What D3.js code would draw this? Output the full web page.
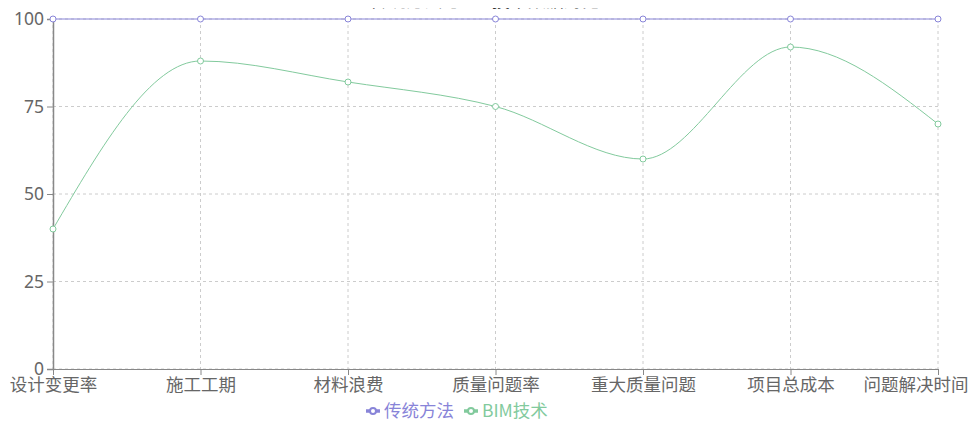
<!DOCTYPE html>
<html><head><meta charset="utf-8">
<script src="https://cdn.jsdelivr.net/npm/d3@7/dist/d3.min.js"></script>
<style>
html,body{margin:0;padding:0;background:#fff;}
svg{display:block;font-family:"Noto Sans CJK SC","Noto Sans",sans-serif;}
</style></head>
<body><svg id="c" width="968" height="421"></svg>
<script>
const categories = ["设计变更率","施工工期","材料浪费","质量问题率","重大质量问题","项目总成本","问题解决时间"];
const traditional = [100,100,100,100,100,100,100];
const bim = [40,88,82,75,60,92,70];
const yTicks = [0,25,50,75,100];
const seriesNames = ["传统方法","BIM技术"];
const seriesColors = ["#8884d8","#82ca9d"];
const titleText = "传统方法与BIM技术数据对比";

const W = 968, H = 421;
const m = {l:53, r:30, t:19, b:52};
const svg = d3.select("#c");
const fs = 17.5;

const x = d3.scalePoint().domain(categories).range([m.l, W - m.r]);
const y = d3.scaleLinear().domain([0,100]).range([H - m.b, m.t]);

// title, mostly hidden behind the top edge in the reference
svg.append("clipPath").attr("id","tclip").append("rect").attr("x",0).attr("y",8).attr("width",W).attr("height",2);
svg.append("text").attr("clip-path","url(#tclip)").attr("x",485).attr("y",7)
  .attr("text-anchor","middle").attr("font-size",18).attr("fill","#333").text(titleText);

// grid
const grid = svg.append("g").attr("stroke","#ccc").attr("stroke-dasharray","3 3").attr("fill","none");
yTicks.forEach(t => grid.append("line").attr("x1",m.l).attr("x2",W-m.r).attr("y1",y(t)).attr("y2",y(t)));
categories.forEach(c => grid.append("line").attr("x1",x(c)).attr("x2",x(c)).attr("y1",m.t).attr("y2",H-m.b));

// x axis
const xa = svg.append("g").attr("transform",`translate(0,${H-m.b})`)
  .call(d3.axisBottom(x).tickSize(6).tickPadding(4));
xa.select(".domain").attr("stroke","#888");
xa.selectAll(".tick line").attr("stroke","#888");
xa.selectAll(".tick text").attr("fill","#666").attr("font-size",fs).attr("font-family","Noto Sans CJK SC");
xa.selectAll(".tick text").each(function(d){
  const el = d3.select(this);
  const w = this.getComputedTextLength();
  const cx = x(d);
  if (cx + w/2 > W) { el.attr("text-anchor","end").attr("x", W - cx); }
});

// y axis
const ya = svg.append("g").attr("transform",`translate(${m.l},0)`)
  .call(d3.axisLeft(y).tickValues(yTicks).tickSize(6).tickPadding(3));
ya.select(".domain").attr("stroke","#888").attr("stroke-width",1.5);
ya.selectAll(".tick line").attr("stroke","#888");
ya.selectAll(".tick text").attr("fill","#666").attr("font-size",fs).attr("font-family","Noto Sans, sans-serif");

// lines
const series = [traditional, bim];
const line = d3.line().x((d,i)=>x(categories[i])).y(d=>y(d)).curve(d3.curveMonotoneX);
series.forEach((s,k)=>{
  svg.append("path").datum(s).attr("d",line).attr("fill","none").attr("stroke",seriesColors[k]).attr("stroke-width",1);
});
series.forEach((s,k)=>{
  svg.append("g").selectAll("circle").data(s).join("circle")
    .attr("cx",(d,i)=>x(categories[i])).attr("cy",d=>y(d)).attr("r",3)
    .attr("fill","#fff").attr("stroke",seriesColors[k]).attr("stroke-width",1);
});

// legend
const lg = svg.append("g").attr("transform","translate(366,411)");
let lx = 0;
seriesNames.forEach((n,k)=>{
  const g = lg.append("g").attr("transform",`translate(${lx},0)`);
  g.append("line").attr("x1",0).attr("x2",14).attr("y1",0).attr("y2",0).attr("stroke",seriesColors[k]).attr("stroke-width",3.5);
  g.append("circle").attr("cx",7).attr("cy",0).attr("r",3).attr("fill","#fff").attr("stroke",seriesColors[k]).attr("stroke-width",2);
  const t = g.append("text").attr("x",18).attr("y",0).attr("dy","0.35em").attr("font-size",fs).attr("fill",seriesColors[k]).text(n);
  lx += 18 + t.node().getComputedTextLength() + 10;
});
</script></body></html>
